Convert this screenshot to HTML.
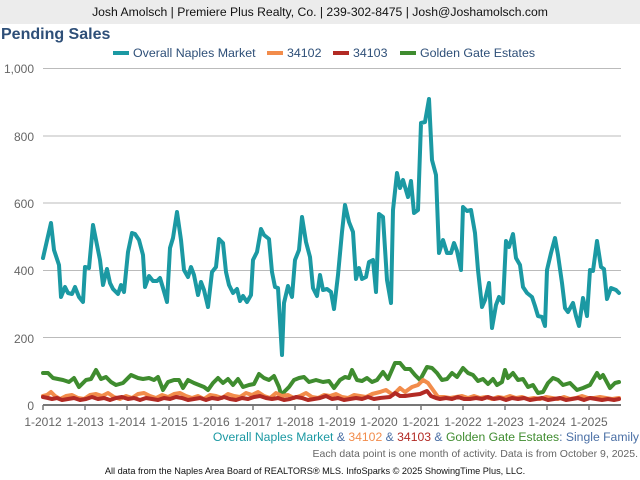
<!DOCTYPE html>
<html><head><meta charset="utf-8"><style>
body{margin:0;width:640px;height:480px;background:#fff;font-family:"Liberation Sans",sans-serif;overflow:hidden;position:relative}
.hdr{position:absolute;left:0;top:0;width:640px;height:24px;background:#ececec;text-align:center;font-size:12.2px;line-height:24px;color:#111}
.t{position:absolute;left:1px;top:26px;font-size:16px;font-weight:bold;color:#2e4f78}
</style></head><body>
<div class="hdr">Josh Amolsch | Premiere Plus Realty, Co. | 239-302-8475 | Josh@Joshamolsch.com</div>
<div class="t">Pending Sales</div>
<svg width="640" height="480" style="position:absolute;left:0;top:0" font-family="Liberation Sans, sans-serif">
<g stroke="#bbb" stroke-width="1">
<line x1="43" y1="68.5" x2="621" y2="68.5"/><line x1="43" y1="136" x2="621" y2="136"/><line x1="43" y1="203" x2="621" y2="203"/><line x1="43" y1="270.5" x2="621" y2="270.5"/><line x1="43" y1="337.5" x2="621" y2="337.5"/>
</g>
<line x1="43" y1="405" x2="621" y2="405" stroke="#777" stroke-width="2"/>
<g stroke="#777" stroke-width="1.5">
<line x1="43" y1="405" x2="43" y2="410"/><line x1="85" y1="405" x2="85" y2="410"/><line x1="127" y1="405" x2="127" y2="410"/><line x1="169" y1="405" x2="169" y2="410"/><line x1="211" y1="405" x2="211" y2="410"/><line x1="253" y1="405" x2="253" y2="410"/><line x1="295" y1="405" x2="295" y2="410"/><line x1="337" y1="405" x2="337" y2="410"/><line x1="379" y1="405" x2="379" y2="410"/><line x1="421" y1="405" x2="421" y2="410"/><line x1="463" y1="405" x2="463" y2="410"/><line x1="505" y1="405" x2="505" y2="410"/><line x1="547" y1="405" x2="547" y2="410"/><line x1="589" y1="405" x2="589" y2="410"/>
</g>
<g font-size="12" fill="#666" text-anchor="end">
<text x="34" y="73">1,000</text><text x="34" y="141">800</text><text x="34" y="208">600</text><text x="34" y="275">400</text><text x="34" y="343">200</text><text x="34" y="410">0</text>
</g>
<g font-size="12" fill="#666" text-anchor="middle">
<text x="43" y="426">1-2012</text><text x="85" y="426">1-2013</text><text x="127" y="426">1-2014</text><text x="169" y="426">1-2015</text><text x="211" y="426">1-2016</text><text x="253" y="426">1-2017</text><text x="295" y="426">1-2018</text><text x="337" y="426">1-2019</text><text x="379" y="426">1-2020</text><text x="421" y="426">1-2021</text><text x="463" y="426">1-2022</text><text x="505" y="426">1-2023</text><text x="547" y="426">1-2024</text><text x="589" y="426">1-2025</text>
</g>
<g fill="none" stroke-width="4" stroke-linejoin="round" stroke-linecap="round">
<polyline stroke="#3f8c2f" points="43,373 48,373 53,378 58,379 63,380 69,382 74,378 79,387 86,380 91,379 96,370 101,379 106,377 111,382 116,385 123,383 131,375 138,378 143,379 149,378 154,380 158,377 163,390 168,382 174,380 179,380 183,388 188,380 194,383 199,385 204,387 208,390 213,383 218,378 223,383 228,379 233,385 238,379 243,387 249,385 254,384 259,374 264,378 269,380 274,376 279,387 282,398 284,392 289,387 294,380 299,378 304,377 309,382 316,380 323,382 329,381 334,388 340,380 345,377 349,378 352,370 357,380 362,381 367,378 372,382 377,380 383,372 388,379 395,363 400,363 405,369 410,369 415,375 420,380 427,367 432,368 437,373 442,380 447,379 452,373 457,377 463,368 468,373 473,375 478,381 483,379 488,384 493,379 497,385 502,382 505,370 508,378 513,373 518,380 523,379 528,387 533,385 538,393 543,392 548,383 553,378 558,380 563,385 570,383 577,390 583,388 590,385 597,373 600,378 603,375 610,388 615,383 619,382"/>
<polyline stroke="#f28c4b" points="43,396 47,395 51,392 55,396 60,399 66,396 72,395 78,398 84,399 90,395 96,394 102,396 108,393 114,397 120,399 126,396 132,398 138,394 144,393 150,396 156,398 162,395 168,397 174,394 180,393 186,396 192,398 198,396 204,399 210,395 216,396 222,398 228,394 234,396 240,397 246,393 252,395 258,392 264,396 270,398 276,393 282,396 288,395 294,398 300,396 306,393 312,397 318,398 324,395 330,396 336,394 342,397 348,398 354,395 360,396 366,397 372,394 380,392 386,390 393,395 400,388 405,392 412,387 418,385 423,380 428,383 433,390 438,397 444,397 450,398 456,397 462,396 468,398 474,396 480,398 486,397 492,399 498,397 504,398 510,396 516,398 522,397 528,399 534,398 540,399 546,397 552,398 558,399 564,397 570,399 576,398 582,396 588,398 594,398 600,397 606,398 612,399 619,398"/>
<polyline stroke="#b22a24" points="43,397 48,398 52,399 57,398 62,400 68,399 74,398 80,400 86,399 92,397 98,399 104,398 110,400 116,398 122,397 128,399 134,398 140,400 146,398 152,399 158,400 164,398 170,399 176,397 182,398 188,400 194,399 200,398 206,400 212,398 218,399 224,397 230,399 236,400 242,398 248,399 254,397 260,396 266,398 272,399 278,398 284,400 290,399 296,397 302,398 308,400 314,399 320,398 326,396 332,399 338,398 344,400 350,399 356,398 362,399 368,397 374,399 380,398 390,397 395,393 400,396 405,396 412,395 420,394 427,391 431,396 436,398 440,399 446,398 452,399 458,397 464,399 470,399 476,398 482,399 488,397 494,399 500,398 506,400 512,398 518,399 524,398 530,400 536,399 542,398 548,400 554,399 560,398 566,400 572,399 578,398 584,400 590,398 596,399 602,400 608,399 614,400 619,399"/>
<polyline stroke="#1b99a3" points="43,258 51,223 54,250 59,265 61,297 65,287 68,293 72,294 75,287 79,297 83,302 85,267 89,268 93,225 96,240 100,260 103,285 107,269 110,283 113,289 118,294 121,285 124,292 128,252 132,233 135,234 139,240 143,255 145,287 149,276 153,281 157,281 160,278 163,288 167,302 170,248 173,238 177,212 181,240 184,270 188,277 191,267 194,275 198,295 201,282 204,290 208,307 212,272 216,267 219,239 223,243 226,272 229,285 233,293 237,289 240,301 243,296 247,302 251,295 253,260 257,252 261,229 264,235 269,239 272,272 275,287 278,288 282,355 284,303 288,286 292,297 295,260 299,250 302,217 306,242 310,257 313,288 317,296 320,275 323,290 327,289 331,292 334,309 338,275 342,232 345,205 349,222 353,232 356,279 359,268 362,279 366,277 369,262 373,260 376,292 379,214 383,217 387,280 391,303 393,210 397,173 400,188 403,180 408,197 411,181 414,213 418,210 421,123 425,122 429,99 432,160 436,175 439,253 443,240 447,253 451,253 454,243 457,251 461,270 463,207 467,211 471,210 475,233 478,270 482,307 485,300 489,283 492,328 496,305 499,297 503,303 506,241 509,247 513,234 516,258 520,265 523,287 527,293 532,297 535,306 538,316 542,317 545,326 547,270 551,253 555,238 558,255 562,283 565,308 568,312 573,303 576,316 579,326 583,298 587,316 590,270 593,271 597,241 601,267 604,269 607,299 611,288 616,290 619,293"/>
</g>
<g font-size="12.4">
<rect x="113" y="51" width="16" height="4" fill="#1b99a3"/><text x="133" y="57" fill="#2e4f78">Overall Naples Market</text>
<rect x="267" y="51" width="16" height="4" fill="#f28c4b"/><text x="287" y="57" fill="#2e4f78">34102</text>
<rect x="333" y="51" width="16" height="4" fill="#b22a24"/><text x="353" y="57" fill="#2e4f78">34103</text>
<rect x="400" y="51" width="16" height="4" fill="#3f8c2f"/><text x="420" y="57" fill="#2e4f78">Golden Gate Estates</text>
</g>
<text x="639" y="441" font-size="12.2" text-anchor="end"><tspan fill="#1b99a3">Overall Naples Market</tspan><tspan fill="#4a6fa5"> &amp; </tspan><tspan fill="#f28c4b">34102</tspan><tspan fill="#4a6fa5"> &amp; </tspan><tspan fill="#b22a24">34103</tspan><tspan fill="#4a6fa5"> &amp; </tspan><tspan fill="#3f8c2f">Golden Gate Estates</tspan><tspan fill="#4a6fa5">: Single Family</tspan></text>
<text x="638" y="457" font-size="10.5" fill="#666" text-anchor="end">Each data point is one month of activity. Data is from October 9, 2025.</text>
<text x="315" y="474" font-size="9.2" fill="#111" text-anchor="middle">All data from the Naples Area Board of REALTORS® MLS. InfoSparks © 2025 ShowingTime Plus, LLC.</text>
</svg>
</body></html>
